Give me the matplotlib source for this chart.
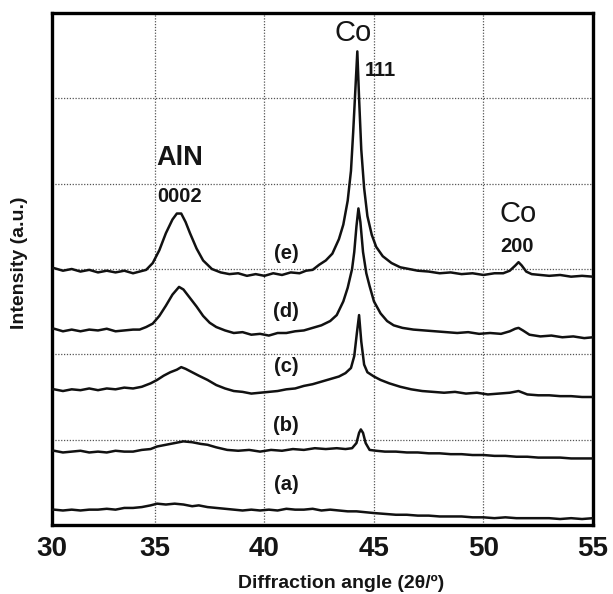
import matplotlib
matplotlib.use("Agg")
import matplotlib.pyplot as plt

plt.rcParams['font.family'] = ['Liberation Sans', 'DejaVu Sans']

# ---- data (2theta in degrees, offset intensity a.u.) ----
x_e = [30.0, 30.4, 30.8, 31.2, 31.6, 32.0, 32.4, 32.8, 33.2, 33.6, 34.0, 34.3, 34.6, 34.9,
       35.2, 35.5, 35.8, 36.0, 36.2, 36.4, 36.6, 36.9, 37.2, 37.6, 38.0, 38.4, 38.8, 39.2,
       39.6, 40.0, 40.4, 40.8, 41.2, 41.6, 41.9, 42.2, 42.5, 42.8, 43.1, 43.4, 43.6, 43.8,
       43.95, 44.05, 44.15, 44.24, 44.32, 44.42, 44.55, 44.7, 44.9, 45.1, 45.4, 45.8, 46.2,
       46.6, 47.0, 47.5, 48.0, 48.5, 49.0, 49.5, 50.0, 50.5, 50.9, 51.2, 51.45, 51.6, 51.75,
       51.95, 52.2, 52.6, 53.0, 53.5, 54.0, 54.5, 55.0]
y_e = [2.99, 3.01, 2.98, 3.00, 2.97, 2.99, 2.96, 2.98, 2.96, 2.98, 2.95, 2.97, 2.99, 3.07,
       3.22, 3.42, 3.58, 3.65, 3.65, 3.55, 3.42, 3.24, 3.10, 3.00, 2.96, 2.94, 2.95, 2.92,
       2.94, 2.92, 2.95, 2.93, 2.96, 2.95, 2.98, 2.99, 3.05, 3.10, 3.18, 3.35, 3.52, 3.80,
       4.15, 4.60, 5.10, 5.55, 5.00, 4.40, 3.95, 3.62, 3.40, 3.26, 3.15, 3.07, 3.02,
       3.00, 2.98, 2.97, 2.95, 2.96, 2.94, 2.95, 2.93, 2.95, 2.95, 2.98, 3.04, 3.08, 3.04,
       2.97, 2.94, 2.93, 2.92, 2.93, 2.91, 2.92, 2.91]

x_d = [30.0, 30.4, 30.8, 31.2, 31.6, 32.0, 32.4, 32.8, 33.2, 33.6, 34.0, 34.3, 34.6, 34.9,
       35.2, 35.5, 35.8, 36.1, 36.3, 36.6, 36.9, 37.2, 37.5, 37.8, 38.2, 38.6, 39.0, 39.4,
       39.8, 40.2, 40.6, 41.0, 41.4, 41.8, 42.2, 42.6, 43.0, 43.3, 43.6, 43.8, 44.0, 44.1,
       44.2, 44.29, 44.38, 44.5, 44.65, 44.8, 45.0, 45.3, 45.6, 45.9, 46.3, 46.8, 47.3,
       47.8, 48.3, 48.8, 49.3, 49.8, 50.3, 50.8, 51.2, 51.45, 51.6, 51.8, 52.1, 52.6, 53.1,
       53.6, 54.1, 54.6, 55.0]
y_d = [2.29, 2.30, 2.27, 2.29, 2.27, 2.29, 2.28, 2.30, 2.27, 2.28, 2.29, 2.29, 2.32, 2.36,
       2.45, 2.57, 2.70, 2.79, 2.76, 2.66, 2.56, 2.45, 2.37, 2.32, 2.28, 2.25, 2.26, 2.23,
       2.24, 2.22, 2.25, 2.25, 2.27, 2.28, 2.31, 2.34, 2.39, 2.46, 2.62, 2.78, 3.00, 3.20,
       3.50, 3.71, 3.55, 3.20, 2.95, 2.80, 2.62, 2.48, 2.39, 2.34, 2.31, 2.29, 2.28,
       2.27, 2.26, 2.25, 2.26, 2.24, 2.25, 2.24, 2.27, 2.30, 2.31, 2.28, 2.23, 2.21, 2.22,
       2.20, 2.21, 2.19, 2.20]

x_c = [30.0, 30.4, 30.8, 31.2, 31.6, 32.0, 32.4, 32.8, 33.2, 33.6, 34.0, 34.4, 34.8, 35.1,
       35.4, 35.7, 36.0, 36.2, 36.4, 36.7, 37.0, 37.4, 37.8, 38.2, 38.6, 39.0, 39.4, 39.8,
       40.2, 40.6, 41.0, 41.4, 41.8, 42.2, 42.6, 43.0, 43.4, 43.7, 43.95, 44.1, 44.22, 44.32,
       44.42, 44.55, 44.7, 45.0, 45.3, 45.7, 46.2, 46.7, 47.2, 47.7, 48.2, 48.7, 49.2, 49.7,
       50.2, 50.7, 51.2, 51.6, 52.0, 52.5, 53.0, 53.5, 54.0, 54.5, 55.0]
y_c = [1.58, 1.59, 1.57, 1.59, 1.58, 1.60, 1.58, 1.60, 1.59, 1.61, 1.60, 1.62, 1.66, 1.70,
       1.75, 1.79, 1.82, 1.85, 1.83, 1.79, 1.75, 1.70, 1.64, 1.60, 1.57, 1.56, 1.54, 1.55,
       1.56, 1.57, 1.59, 1.60, 1.63, 1.65, 1.68, 1.71, 1.74, 1.78, 1.84, 1.98, 2.25, 2.46,
       2.15, 1.88, 1.79, 1.74, 1.70, 1.66, 1.62, 1.59, 1.57, 1.56, 1.55, 1.56, 1.54, 1.55,
       1.53, 1.54, 1.55, 1.57, 1.53, 1.52, 1.52, 1.51, 1.51, 1.50, 1.50]

x_b = [30.0, 30.4, 30.8, 31.2, 31.6, 32.0, 32.4, 32.8, 33.2, 33.6, 34.0, 34.4, 34.8, 35.1,
       35.5, 35.9, 36.3, 36.7, 37.1, 37.4, 37.8, 38.3, 38.8, 39.3, 39.8, 40.3, 40.8, 41.3,
       41.8, 42.3, 42.8, 43.3, 43.7, 44.0, 44.2, 44.32, 44.4, 44.5, 44.62, 44.8, 45.1, 45.5,
       46.0, 46.5, 47.0, 47.5, 48.0, 48.5, 49.0, 49.5, 50.0, 50.5, 51.0, 51.5, 52.0, 52.5,
       53.0, 53.5, 54.0, 54.5, 55.0]
y_b = [0.86, 0.87, 0.85, 0.86, 0.87, 0.85, 0.86, 0.85, 0.87, 0.86, 0.86, 0.88, 0.89, 0.92,
       0.94, 0.96, 0.98, 0.97, 0.95, 0.94, 0.91, 0.88, 0.87, 0.88, 0.86, 0.88, 0.87, 0.89,
       0.88, 0.90, 0.89, 0.90, 0.89, 0.90, 0.96, 1.08, 1.12, 1.08, 0.96, 0.88, 0.87, 0.86,
       0.86, 0.85, 0.85, 0.84, 0.84, 0.83, 0.83, 0.82, 0.82, 0.81, 0.81, 0.80, 0.80, 0.79,
       0.79, 0.79, 0.78, 0.78, 0.78]

x_a = [30.0, 30.4, 30.8, 31.2, 31.6, 32.0, 32.4, 32.8, 33.2, 33.6, 34.0, 34.4, 34.8, 35.1,
       35.5, 35.9, 36.3, 36.7, 37.0, 37.4, 37.8, 38.2, 38.6, 39.0, 39.4, 39.8, 40.2, 40.6,
       41.0, 41.4, 41.8, 42.2, 42.6, 43.0, 43.4, 43.8, 44.2, 44.6, 45.0, 45.5, 46.0, 46.5,
       47.0, 47.5, 48.0, 48.5, 49.0, 49.5, 50.0, 50.5, 51.0, 51.5, 52.0, 52.5, 53.0, 53.5,
       54.0, 54.5, 55.0]
y_a = [0.17, 0.18, 0.17, 0.18, 0.17, 0.18, 0.18, 0.19, 0.18, 0.20, 0.20, 0.21, 0.23, 0.25,
       0.24, 0.25, 0.24, 0.22, 0.23, 0.21, 0.20, 0.19, 0.18, 0.17, 0.18, 0.17, 0.18, 0.17,
       0.19, 0.18, 0.18, 0.19, 0.17, 0.18, 0.17, 0.16, 0.16, 0.15, 0.14, 0.13, 0.12, 0.12,
       0.11, 0.11, 0.10, 0.10, 0.10, 0.09, 0.09, 0.08, 0.09, 0.08, 0.08, 0.08, 0.08, 0.07,
       0.08, 0.07, 0.08]

series = [(x_a, y_a), (x_b, y_b), (x_c, y_c), (x_d, y_d), (x_e, y_e)]

curve_labels = ['(a)', '(b)', '(c)', '(d)', '(e)']
curve_label_x = [41.0, 41.0, 41.0, 41.0, 41.0]
curve_label_y = [0.47, 1.17, 1.86, 2.50, 3.18]

xtick_values = [30, 35, 40, 45, 50, 55]
xtick_labels = ['30', '35', '40', '45', '50', '55']
x_grid = [35, 40, 45, 50]
y_grid = [1, 2, 3, 4, 5]

ink = '#151515'

fig = plt.figure(figsize=(6.13, 5.94), dpi=100)
ax = fig.add_axes([52 / 613, 69 / 594, 541 / 613, 512 / 594])

for xv in x_grid:
    ax.axvline(xv, color='#555555', lw=0.9, ls=(0, (1, 1.3)), zorder=1)
for yv in y_grid:
    ax.axhline(yv, color='#555555', lw=0.9, ls=(0, (1, 1.3)), zorder=1)

for xs, ys in series:
    ax.plot(xs, ys, color='#111111', lw=1.8, zorder=3)

for lab, lx, ly in zip(curve_labels, curve_label_x, curve_label_y):
    ax.text(lx, ly, lab, fontsize=14.5, fontweight='bold', color=ink,
            ha='center', va='center', zorder=4)

# peak annotations
ax.text(36.14, 4.30, 'AlN', fontsize=19.5, fontweight='bold', color=ink, ha='center', va='center')
ax.text(36.14, 3.85, '0002', fontsize=14.5, fontweight='bold', color=ink, ha='center', va='center')
ax.text(44.06, 5.76, 'Co', fontsize=21, color=ink, ha='center', va='center')
ax.text(45.28, 5.33, '111', fontsize=14.5, fontweight='bold', color=ink, ha='center', va='center')
ax.text(51.6, 3.64, 'Co', fontsize=21, color=ink, ha='center', va='center')
ax.text(51.55, 3.26, '200', fontsize=14.5, fontweight='bold', color=ink, ha='center', va='center')

x_left = 30.3
ax.set_xlim(x_left, 55.0)
ax.set_ylim(0, 6)
tick_pos = [max(v, x_left) for v in xtick_values]
ax.set_xticks(tick_pos)
ax.set_xticklabels(xtick_labels, fontsize=20, fontweight='bold', color=ink)
ax.set_yticks([])
ax.tick_params(axis='x', length=0, pad=8)
for sp in ax.spines.values():
    sp.set_linewidth(2.4)
    sp.set_color('black')

fig.text(340.7 / 613, 1 - 583 / 594, 'Diffraction angle (2\u03b8/\u00ba)', fontsize=14,
         fontweight='bold', color=ink, ha='center', va='center')
fig.text(20 / 613, 1 - 262.5 / 594, 'Intensity (a.u.)', fontsize=14, fontweight='bold',
         color=ink, ha='center', va='center', rotation=90)

fig.savefig('out.png', dpi=100)
